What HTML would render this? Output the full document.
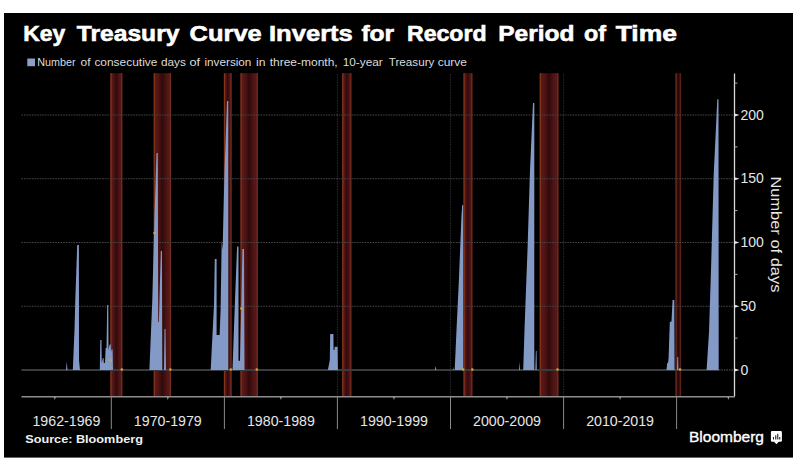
<!DOCTYPE html>
<html><head><meta charset="utf-8">
<style>
html,body{margin:0;padding:0;background:#fff;}
body{width:797px;height:470px;overflow:hidden;position:relative;}
svg{position:absolute;left:0;top:0;}
text{font-family:"Liberation Sans",sans-serif;}
.ax{font-size:14px;fill:#e6e6e6;}
.dec{font-size:14.2px;fill:#e6e6e6;}
.lg{font-size:10.5px;fill:#dcdcdc;}
.ti{font-size:22.6px;font-weight:bold;fill:#fff;stroke:#fff;stroke-width:0.6px;}
</style></head><body>
<svg width="797" height="470" viewBox="0 0 797 470">
<defs>
<linearGradient id="rg" x1="0" y1="0" x2="1" y2="0">
<stop offset="0" stop-color="#601c18"/>
<stop offset="0.25" stop-color="#521414"/>
<stop offset="0.5" stop-color="#300a0c"/>
<stop offset="0.75" stop-color="#501414"/>
<stop offset="1" stop-color="#5c1c1a"/>
</linearGradient>
</defs>
<rect x="4" y="13" width="789" height="444.6" fill="#000"/>
<line x1="111.3" y1="74" x2="111.3" y2="396" stroke="#26282c" stroke-width="1" stroke-dasharray="1.6,1"/>
<line x1="224.4" y1="74" x2="224.4" y2="396" stroke="#26282c" stroke-width="1" stroke-dasharray="1.6,1"/>
<line x1="337.4" y1="74" x2="337.4" y2="396" stroke="#26282c" stroke-width="1" stroke-dasharray="1.6,1"/>
<line x1="450.5" y1="74" x2="450.5" y2="396" stroke="#26282c" stroke-width="1" stroke-dasharray="1.6,1"/>
<line x1="563.6" y1="74" x2="563.6" y2="396" stroke="#26282c" stroke-width="1" stroke-dasharray="1.6,1"/>
<line x1="676.6" y1="74" x2="676.6" y2="396" stroke="#26282c" stroke-width="1" stroke-dasharray="1.6,1"/>
<rect x="110.4" y="73.2" width="11.9" height="323.6" fill="url(#rg)"/>
<rect x="110.4" y="73.2" width="1.2" height="323.6" fill="#8a3a1c" opacity="0.85"/>
<rect x="121.1" y="73.2" width="1.2" height="323.6" fill="#7a3424" opacity="0.70"/>
<rect x="153.7" y="73.2" width="17.3" height="323.6" fill="url(#rg)"/>
<rect x="153.7" y="73.2" width="1.2" height="323.6" fill="#8a3a1c" opacity="0.85"/>
<rect x="169.8" y="73.2" width="1.2" height="323.6" fill="#7a3424" opacity="0.70"/>
<rect x="223.9" y="73.2" width="7.7" height="323.6" fill="url(#rg)"/>
<rect x="223.9" y="73.2" width="1.2" height="323.6" fill="#8a3a1c" opacity="0.85"/>
<rect x="230.4" y="73.2" width="1.2" height="323.6" fill="#7a3424" opacity="0.70"/>
<rect x="240.5" y="73.2" width="17.4" height="323.6" fill="url(#rg)"/>
<rect x="240.5" y="73.2" width="1.2" height="323.6" fill="#8a3a1c" opacity="0.85"/>
<rect x="256.7" y="73.2" width="1.2" height="323.6" fill="#7a3424" opacity="0.70"/>
<rect x="342.2" y="73.2" width="9.2" height="323.6" fill="url(#rg)"/>
<rect x="342.2" y="73.2" width="1.2" height="323.6" fill="#8a3a1c" opacity="0.85"/>
<rect x="350.2" y="73.2" width="1.2" height="323.6" fill="#7a3424" opacity="0.70"/>
<rect x="463.5" y="73.2" width="8.9" height="323.6" fill="url(#rg)"/>
<rect x="463.5" y="73.2" width="1.2" height="323.6" fill="#8a3a1c" opacity="0.85"/>
<rect x="471.2" y="73.2" width="1.2" height="323.6" fill="#7a3424" opacity="0.70"/>
<rect x="539.7" y="73.2" width="18.7" height="323.6" fill="url(#rg)"/>
<rect x="539.7" y="73.2" width="1.2" height="323.6" fill="#8a3a1c" opacity="0.85"/>
<rect x="557.2" y="73.2" width="1.2" height="323.6" fill="#7a3424" opacity="0.70"/>
<rect x="675.4" y="73.2" width="5.7" height="323.6" fill="url(#rg)" opacity="0.75"/>
<rect x="675.4" y="73.2" width="1.2" height="323.6" fill="#8a3a1c" opacity="0.51"/>
<rect x="679.9" y="73.2" width="1.2" height="323.6" fill="#7a3424" opacity="0.42"/>
<line x1="21.5" y1="306.25" x2="734" y2="306.25" stroke="#464646" stroke-width="1" stroke-dasharray="1.6,1"/>
<line x1="21.5" y1="242.50" x2="734" y2="242.50" stroke="#464646" stroke-width="1" stroke-dasharray="1.6,1"/>
<line x1="21.5" y1="178.75" x2="734" y2="178.75" stroke="#464646" stroke-width="1" stroke-dasharray="1.6,1"/>
<line x1="21.5" y1="115.00" x2="734" y2="115.00" stroke="#464646" stroke-width="1" stroke-dasharray="1.6,1"/>
<line x1="21.5" y1="370" x2="719" y2="370" stroke="#363c40" stroke-width="2"/>
<line x1="719" y1="370" x2="734" y2="370" stroke="#5a5a5a" stroke-width="1" stroke-dasharray="1.5,1"/>
<polygon points="66.0,370.0 66.7,361.4 67.5,370.0" fill="#8399c6"/>
<polygon points="72.8,370.0 74.5,330.0 75.3,300.0 77.2,245.0 78.9,245.0 79.0,360.0 80.0,370.0" fill="#8399c6"/>
<polygon points="99.8,370.0 100.3,340.0 101.5,340.0 101.7,363.0 102.8,358.0 103.6,358.0 103.8,363.0 105.0,363.0 105.6,348.0 106.5,348.0 107.2,305.0 108.3,305.0 108.5,350.0 109.6,344.4 110.8,344.4 111.0,352.0 111.6,349.5 112.6,349.5 113.0,370.0" fill="#8399c6"/>
<polygon points="149.4,370.0 152.3,300.0 154.5,215.0 156.5,153.0 157.8,153.0 158.2,322.0 158.9,322.0 160.8,251.0 162.0,251.0 162.3,370.0 164.0,370.0 164.5,329.0 165.5,329.0 166.0,370.0" fill="#8399c6"/>
<polygon points="210.7,370.0 214.0,305.0 214.8,259.0 216.6,259.0 216.6,335.0 219.6,335.0 220.6,310.0 221.7,240.0 222.6,250.0 224.5,172.0 227.0,101.0 228.3,101.0 228.3,370.0" fill="#8399c6"/>
<polygon points="232.5,370.0 235.0,300.0 237.1,246.4 238.5,246.4 238.5,360.8 240.0,360.8 241.4,300.0 242.4,249.0 244.0,249.0 244.5,370.0" fill="#8399c6"/>
<polygon points="327.9,370.0 329.8,360.0 330.2,334.0 333.4,334.0 333.6,350.0 334.4,350.0 334.7,346.8 337.6,346.8 337.9,370.0" fill="#8399c6"/>
<polygon points="434.8,370.0 435.5,366.0 436.3,370.0" fill="#8399c6"/>
<polygon points="453.0,370.0 453.3,367.0 453.7,370.0" fill="#8399c6"/>
<polygon points="454.7,370.0 456.5,330.0 458.9,280.0 461.5,215.0 462.2,205.0 463.2,205.0 463.2,370.0" fill="#8399c6"/>
<polygon points="519.0,370.0 519.5,361.4 520.1,370.0" fill="#8399c6"/>
<polygon points="523.2,370.0 524.5,330.0 525.6,300.0 527.5,250.0 530.0,170.0 533.0,103.0 534.3,103.0 534.3,370.0" fill="#8399c6"/>
<polygon points="535.3,370.0 535.9,351.0 536.6,351.0 536.8,370.0" fill="#8399c6"/>
<polygon points="666.5,370.0 667.2,363.0 668.0,363.0 668.6,358.0 669.8,322.0 671.5,321.4 672.6,300.0 674.3,300.0 674.6,370.0" fill="#8399c6"/>
<polygon points="677.0,370.0 677.3,357.0 678.2,357.0 678.4,370.0" fill="#8399c6"/>
<polygon points="706.6,370.0 709.0,332.0 711.0,270.0 713.7,175.0 717.3,99.2 718.5,99.2 718.7,370.0" fill="#8399c6"/>
<circle cx="121.8" cy="369.5" r="1.3" fill="#e0a030"/>
<circle cx="110.7" cy="360.5" r="1.3" fill="#e0a030"/>
<circle cx="154.5" cy="233" r="1.3" fill="#e0a030"/>
<circle cx="170.3" cy="369.5" r="1.3" fill="#e0a030"/>
<circle cx="230.8" cy="369.5" r="1.3" fill="#e0a030"/>
<circle cx="241.4" cy="308.5" r="1.3" fill="#e0a030"/>
<circle cx="256.8" cy="369.5" r="1.3" fill="#e0a030"/>
<circle cx="463.2" cy="369.5" r="1.3" fill="#e0a030"/>
<circle cx="472.3" cy="369.5" r="1.3" fill="#e0a030"/>
<circle cx="557.5" cy="369.5" r="1.3" fill="#e0a030"/>
<circle cx="680" cy="369.5" r="1.3" fill="#e0a030"/>
<line x1="21.5" y1="396.8" x2="735" y2="396.8" stroke="#8e8e8e" stroke-width="1.6"/>
<polygon points="53.7,396.8 55.9,396.8 54.8,400" fill="#9a9a9a"/>
<polygon points="166.7,396.8 168.9,396.8 167.8,400" fill="#9a9a9a"/>
<polygon points="279.8,396.8 282.0,396.8 280.9,400" fill="#9a9a9a"/>
<polygon points="392.9,396.8 395.1,396.8 394.0,400" fill="#9a9a9a"/>
<polygon points="505.9,396.8 508.1,396.8 507.0,400" fill="#9a9a9a"/>
<polygon points="619.0,396.8 621.2,396.8 620.1,400" fill="#9a9a9a"/>
<polygon points="727.3,396.8 729.5,396.8 728.4,400" fill="#9a9a9a"/>
<line x1="111.3" y1="396" x2="111.3" y2="429" stroke="#8a8a8a" stroke-width="1"/>
<line x1="224.4" y1="396" x2="224.4" y2="429" stroke="#8a8a8a" stroke-width="1"/>
<line x1="337.4" y1="396" x2="337.4" y2="429" stroke="#8a8a8a" stroke-width="1"/>
<line x1="450.5" y1="396" x2="450.5" y2="429" stroke="#8a8a8a" stroke-width="1"/>
<line x1="563.6" y1="396" x2="563.6" y2="429" stroke="#8a8a8a" stroke-width="1"/>
<line x1="676.6" y1="396" x2="676.6" y2="429" stroke="#8a8a8a" stroke-width="1"/>
<line x1="734.5" y1="73.5" x2="734.5" y2="396" stroke="#d8d8d8" stroke-width="1.3"/>
<polygon points="734.5,368.50 739.5,370.00 734.5,371.50" fill="#e8e8e8"/>
<polygon points="734.5,304.75 739.5,306.25 734.5,307.75" fill="#e8e8e8"/>
<polygon points="734.5,241.00 739.5,242.50 734.5,244.00" fill="#e8e8e8"/>
<polygon points="734.5,177.25 739.5,178.75 734.5,180.25" fill="#e8e8e8"/>
<polygon points="734.5,113.50 739.5,115.00 734.5,116.50" fill="#e8e8e8"/>
<line x1="734.5" y1="338.12" x2="737.5" y2="338.12" stroke="#aaa" stroke-width="1"/>
<line x1="734.5" y1="274.38" x2="737.5" y2="274.38" stroke="#aaa" stroke-width="1"/>
<line x1="734.5" y1="210.62" x2="737.5" y2="210.62" stroke="#aaa" stroke-width="1"/>
<line x1="734.5" y1="146.88" x2="737.5" y2="146.88" stroke="#aaa" stroke-width="1"/>
<line x1="734.5" y1="83.12" x2="737.5" y2="83.12" stroke="#aaa" stroke-width="1"/>
<text x="740.5" y="374.60" class="ax">0</text>
<text x="740.5" y="310.85" class="ax">50</text>
<text x="740.5" y="247.10" class="ax">100</text>
<text x="740.5" y="183.35" class="ax">150</text>
<text x="740.5" y="119.60" class="ax">200</text>
<text x="66.4" y="426" class="dec" text-anchor="middle">1962-1969</text>
<text x="167.8" y="426" class="dec" text-anchor="middle">1970-1979</text>
<text x="280.9" y="426" class="dec" text-anchor="middle">1980-1989</text>
<text x="394.0" y="426" class="dec" text-anchor="middle">1990-1999</text>
<text x="507.0" y="426" class="dec" text-anchor="middle">2000-2009</text>
<text x="620.1" y="426" class="dec" text-anchor="middle">2010-2019</text>
<text x="23.3" y="41.2" class="ti" textLength="42.0" lengthAdjust="spacingAndGlyphs">Key</text>
<text x="76.8" y="41.2" class="ti" textLength="102.6" lengthAdjust="spacingAndGlyphs">Treasury</text>
<text x="189.6" y="41.2" class="ti" textLength="72.1" lengthAdjust="spacingAndGlyphs">Curve</text>
<text x="269" y="41.2" class="ti" textLength="83.8" lengthAdjust="spacingAndGlyphs">Inverts</text>
<text x="361.4" y="41.2" class="ti" textLength="32.8" lengthAdjust="spacingAndGlyphs">for</text>
<text x="407" y="41.2" class="ti" textLength="79.5" lengthAdjust="spacingAndGlyphs">Record</text>
<text x="498.2" y="41.2" class="ti" textLength="76.3" lengthAdjust="spacingAndGlyphs">Period</text>
<text x="584" y="41.2" class="ti" textLength="22.0" lengthAdjust="spacingAndGlyphs">of</text>
<text x="615.7" y="41.2" class="ti" textLength="61.3" lengthAdjust="spacingAndGlyphs">Time</text>
<rect x="27.3" y="58.5" width="7.7" height="7.7" fill="#8c9fc5"/>
<text x="37.3" y="66.3" class="lg" textLength="38.3" lengthAdjust="spacingAndGlyphs">Number</text>
<text x="80.6" y="66.3" class="lg" textLength="10.0" lengthAdjust="spacingAndGlyphs">of</text>
<text x="94.4" y="66.3" class="lg" textLength="63.0" lengthAdjust="spacingAndGlyphs">consecutive</text>
<text x="161.0" y="66.3" class="lg" textLength="24.9" lengthAdjust="spacingAndGlyphs">days</text>
<text x="189.5" y="66.3" class="lg" textLength="10.6" lengthAdjust="spacingAndGlyphs">of</text>
<text x="204.5" y="66.3" class="lg" textLength="46.9" lengthAdjust="spacingAndGlyphs">inversion</text>
<text x="256.1" y="66.3" class="lg" textLength="9.5" lengthAdjust="spacingAndGlyphs">in</text>
<text x="269.7" y="66.3" class="lg" textLength="68.0" lengthAdjust="spacingAndGlyphs">three-month,</text>
<text x="342.7" y="66.3" class="lg" textLength="40.1" lengthAdjust="spacingAndGlyphs">10-year</text>
<text x="388.8" y="66.3" class="lg" textLength="45.6" lengthAdjust="spacingAndGlyphs">Treasury</text>
<text x="437.7" y="66.3" class="lg" textLength="29.3" lengthAdjust="spacingAndGlyphs">curve</text>
<text transform="translate(770.5,176.4) rotate(90)" font-size="14.5" fill="#e6e6e6" textLength="116" lengthAdjust="spacingAndGlyphs">Number of days</text>
<text x="25.2" y="443.1" font-size="11" font-weight="bold" fill="#f0f0f0" textLength="117.7" lengthAdjust="spacingAndGlyphs">Source: Bloomberg</text>
<text x="689" y="442.1" font-size="15" fill="#fff" stroke="#fff" stroke-width="0.35" textLength="75" lengthAdjust="spacingAndGlyphs">Bloomberg</text>
<g>
<rect x="770.9" y="430.9" width="11" height="10.8" rx="1.2" fill="#fff"/>
<polygon points="773.6,441.2 779.2,441.2 776.4,444.2" fill="#fff"/>
<rect x="773" y="437" width="1" height="2.5" fill="#222"/>
<rect x="775.2" y="435.3" width="1.1" height="4.2" fill="#222"/>
<rect x="777.2" y="433.8" width="1.1" height="5.7" fill="#222"/>
<rect x="779.2" y="437" width="1.1" height="2.5" fill="#222"/>
</g>
</svg>
</body></html>
